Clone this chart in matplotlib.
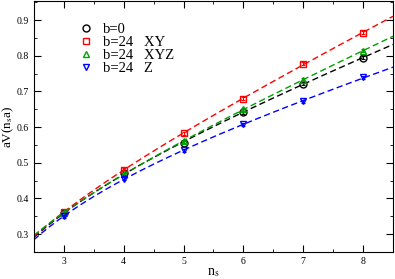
import numpy as np
import matplotlib.pyplot as plt
from matplotlib.ticker import MultipleLocator

plt.rcParams['font.family'] = ['Liberation Serif', 'DejaVu Serif']
plt.rcParams['mathtext.fontset'] = 'stix'

ns = np.array([3, 4, 5, 6, 7, 8])
v_b0 = [0.358, 0.470, 0.556, 0.642, 0.722, 0.794]
v_xy = [0.362, 0.481, 0.582, 0.680, 0.778, 0.864]
v_xyz = [0.360, 0.468, 0.560, 0.650, 0.733, 0.814]
v_z = [0.350, 0.455, 0.535, 0.608, 0.672, 0.739]
err = 0.004

labels = ["b=0", "b=24   XY", "b=24   XYZ", "b=24   Z"]
series = [v_b0, v_xy, v_xyz, v_z]
colors = ["black", "red", "#00a000", "blue"]
markers = ["o", "s", "^", "v"]

fig = plt.figure(figsize=(3.95, 2.79), dpi=100)
ax = fig.add_axes([0.086, 0.097, 0.909, 0.899])

xx = np.linspace(2.5, 8.5, 200)
A = np.column_stack([np.ones(len(ns)), ns, 1.0 / ns])
Ax = np.column_stack([np.ones(len(xx)), xx, 1.0 / xx])
for vals, c, m, lab in zip(series, colors, markers, labels):
    # Cornell-type fit V0 + s*n - e/n
    coef = np.linalg.lstsq(A, np.array(vals), rcond=None)[0]
    ax.plot(xx, Ax @ coef, ls=(0, (4.5, 2.5)), color=c, lw=1.0)
    ax.errorbar(ns, vals, yerr=err, fmt='none', ecolor=c, elinewidth=0.8,
                capsize=1.5, capthick=0.8)
    ax.plot(ns, vals, m, mfc='none', mec=c, ms=5, mew=1.0, label=lab)

ax.set_xlim(2.5, 8.5)
ax.set_ylim(0.25, 0.953)
ax.xaxis.set_major_locator(MultipleLocator(1))
ax.xaxis.set_minor_locator(MultipleLocator(0.5))
ax.yaxis.set_major_locator(MultipleLocator(0.1))
ax.yaxis.set_minor_locator(MultipleLocator(0.05))
ax.tick_params(which='both', direction='in', top=True, right=True, labelsize=7)
ax.tick_params(which='major', length=5)
ax.tick_params(which='minor', length=2.5)
ax.set_xticks([3, 4, 5, 6, 7, 8])
ax.set_yticks([0.3, 0.4, 0.5, 0.6, 0.7, 0.8, 0.9])

ax.set_xlabel("n$_{\\mathrm{s}}$", fontsize=10, labelpad=0)
ax.set_ylabel("aV(n$_{\\mathrm{s}}$a)", fontsize=9.5, labelpad=0)
ax.yaxis.set_label_coords(-0.05, 0.5)

ax.legend(loc='upper left', bbox_to_anchor=(0.095, 0.955), frameon=False,
          fontsize=10.5, handlelength=1.0, handletextpad=0.7, labelspacing=0.0,
          borderpad=0.2)

fig.savefig("out.png", dpi=100)
